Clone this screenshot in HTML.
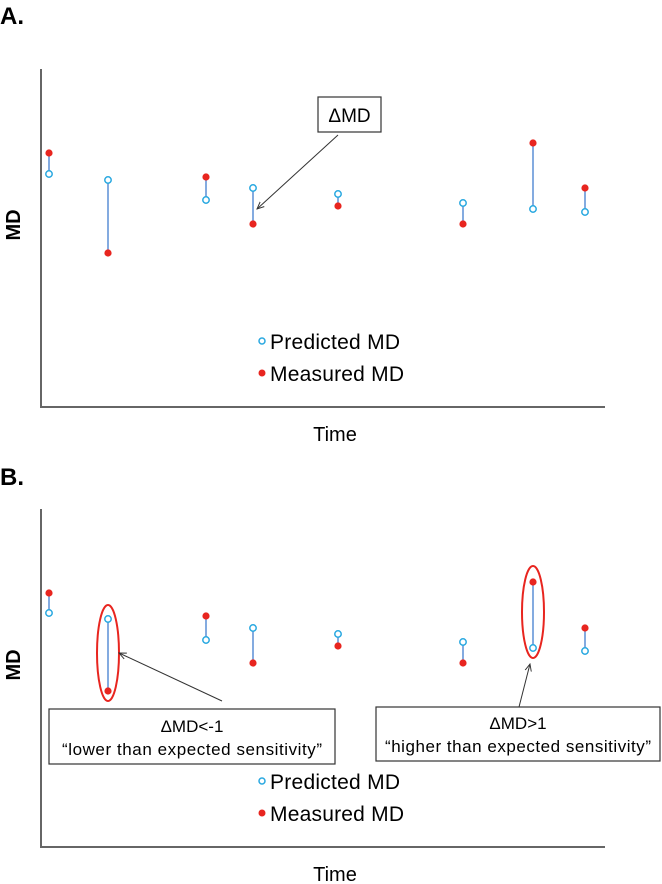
<!DOCTYPE html>
<html><head><meta charset="utf-8"><style>
html,body{margin:0;padding:0;background:#fff;}
svg{display:block;font-family:"Liberation Sans",sans-serif;}
</style></head><body>
<svg id="fig" width="662" height="884" viewBox="0 0 662 884">
<defs><marker id="ah" viewBox="0 0 10 10" refX="9" refY="5" markerWidth="8" markerHeight="8" orient="auto-start-reverse"><path d="M0,1 L9,5 L0,9" fill="none" stroke="#333" stroke-width="1.2"/></marker></defs>
<text x="0" y="24" font-size="24" font-weight="bold">A.</text>
<text x="0" y="485" font-size="24" font-weight="bold">B.</text>
<g id="pa"></g>
<g id="pb"></g>
</svg>
<script>
const timePoints=[1,2,3,4,5,6,7,8];
const timeX=[49,108,206,253,338,463,533,585];
const predictedA=[174,180,200,188,194,203,209,212];
const measuredA=[153,253,177,224,206,224,143,188];
const predictedB=[173,179,200,188,194,202,208,211];
const measuredB=[153,251,176,223,206,223,142,188];
const NS="http://www.w3.org/2000/svg";
function mk(p,t,a,txt){const e=document.createElementNS(NS,t);for(const k in a)e.setAttribute(k,a[k]);if(txt!==undefined)e.textContent=txt;p.appendChild(e);return e;}
function xScale(i){return timeX[i];}
function drawPanel(g,top,pred,meas){
  const yS=v=>top+(v-69);
  const ax=mk(g,'path',{d:`M41,${top} V${top+338} H605`,fill:'none',stroke:'#666','stroke-width':2});
  
  const yl=mk(g,'text',{x:0,y:0,'font-size':20,'font-weight':'bold','text-anchor':'middle',transform:`translate(20,${top+156}) rotate(-90)`},'MD');
  
  const xl=mk(g,'text',{x:335,y:top+372,'font-size':20,'text-anchor':'middle'},'Time');
  
  for(let i=0;i<pred.length;i++){
    const x=xScale(i);
    const l=mk(g,'line',{x1:x,x2:x,y1:yS(pred[i]),y2:yS(meas[i]),stroke:'#5b8fd6','stroke-width':1.5});
    
    const c=mk(g,'circle',{cx:x,cy:yS(pred[i]),r:3.2,fill:'#fff',stroke:'#29a8e0','stroke-width':1.5});
    
    const m=mk(g,'circle',{cx:x,cy:yS(meas[i]),r:3.6,fill:'#e8251f'});
    
  }
  const lg=mk(g,'g',{});
  
  const lc=mk(lg,'circle',{cx:262,cy:top+272,r:3,fill:'#fff',stroke:'#29a8e0','stroke-width':1.5});
  
  const lt=mk(lg,'text',{x:270,y:top+280,'font-size':21,textLength:130},'Predicted MD');
  
  const lm=mk(lg,'circle',{cx:262,cy:top+304,r:3.5,fill:'#e8251f'});
  
  const lt2=mk(lg,'text',{x:270,y:top+312,'font-size':21,textLength:134},'Measured MD');
  
  return yS;
}
const ga=document.getElementById('pa'),gb=document.getElementById('pb');
drawPanel(ga,69,predictedA,measuredA);
const yB=drawPanel(gb,509,predictedB,measuredB);
const bx=mk(ga,'rect',{x:318,y:97,width:63,height:35,fill:'#fff',stroke:'#333','stroke-width':1.2});

const bt=mk(ga,'text',{x:349.5,y:122,'font-size':19,'text-anchor':'middle'},'ΔMD');

const ar=mk(ga,'line',{x1:338,y1:135,x2:257,y2:209,stroke:'#333','stroke-width':1,'marker-end':'url(#ah)'});

const e1=mk(gb,'ellipse',{cx:108,cy:653,rx:11,ry:48,fill:'none',stroke:'#e8251f','stroke-width':2});

const e2=mk(gb,'ellipse',{cx:533,cy:612,rx:11,ry:46,fill:'none',stroke:'#e8251f','stroke-width':2});

const a1=mk(gb,'line',{x1:222,y1:701,x2:119,y2:653,stroke:'#333','stroke-width':1,'marker-end':'url(#ah)'});

const a2=mk(gb,'line',{x1:519,y1:707,x2:530,y2:664,stroke:'#333','stroke-width':1,'marker-end':'url(#ah)'});

const r1=mk(gb,'rect',{x:49,y:709,width:286,height:55,fill:'#fff',stroke:'#333','stroke-width':1.2});

const t1=mk(gb,'text',{x:192,y:732,'font-size':17,'text-anchor':'middle'},'ΔMD<-1');

const t1b=mk(gb,'text',{x:192,y:755,'font-size':17,'text-anchor':'middle',textLength:260},'“lower than expected sensitivity”');

const r2=mk(gb,'rect',{x:376,y:707,width:284,height:54,fill:'#fff',stroke:'#333','stroke-width':1.2});

const t2=mk(gb,'text',{x:518,y:729,'font-size':17,'text-anchor':'middle'},'ΔMD>1');

const t2b=mk(gb,'text',{x:518,y:752,'font-size':17,'text-anchor':'middle',textLength:266},'“higher than expected sensitivity”');

</script>
</body></html>
